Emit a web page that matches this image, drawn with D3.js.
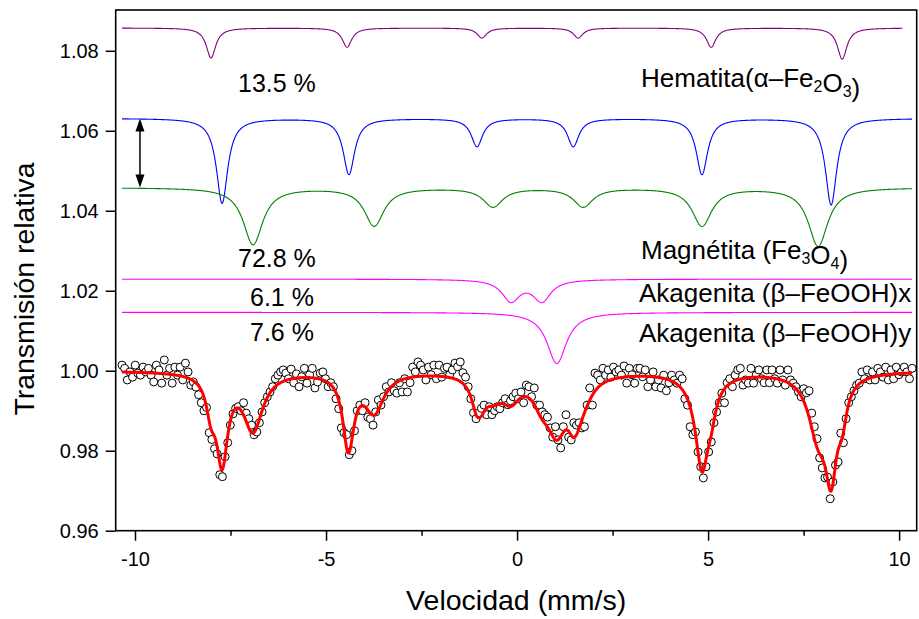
<!DOCTYPE html>
<html><head><meta charset="utf-8">
<script src="https://cdn.jsdelivr.net/npm/d3@7"></script>
<style>body{margin:0;background:#fff;} text{font-family:Arial,"Liberation Sans",sans-serif;fill:#000;}</style>
</head><body><svg id="c" width="919" height="619"></svg>
<script>
// ---------- data ----------
const xTicks = [-10, -5, 0, 5, 10];
const xTickLabels = ["-10", "-5", "0", "5", "10"];
const xMinorTicks = [-7.5, -2.5, 2.5, 7.5];
const yTicks = [0.96, 0.98, 1.00, 1.02, 1.04, 1.06, 1.08];
const yTickLabels = ["0.96", "0.98", "1.00", "1.02", "1.04", "1.06", "1.08"];

// measured spectrum (channels equally spaced from velStart to velEnd)
const velStart = -10.34, velEnd = 10.34;
const transmission = [
1.0014,1.0006,0.9977,0.9997,0.9984,1.0014,0.9994,0.9989,1.0009,0.9997,1.0006,0.9989,0.9972,1.0014,1.0002,0.9969,1.0027,0.9989,1.0006,0.9969,1.0009,0.9989,1.0009,0.9977,1.0019,0.9997,
0.9964,0.9972,0.9959,0.9940,0.9920,0.9900,0.9908,0.9845,0.9828,0.9805,0.9792,0.9740,0.9735,0.9785,0.9820,0.9864,0.9892,0.9906,0.9910,0.9900,0.9920,0.9894,0.9880,0.9864,0.9840,0.9847,0.9870,0.9897,0.9920,0.9935,0.9947,0.9960,0.9980,0.9989,0.9997,1.0002,0.9994,0.9980,1.0004,0.9970,0.9992,0.9960,0.9985,1.0006,0.9969,0.9990,1.0006,0.9957,
0.9972,0.9994,0.9997,0.9980,0.9960,0.9970,0.9960,0.9930,0.9905,0.9857,0.9845,0.9840,0.9790,0.9800,0.9850,0.9900,0.9914,0.9900,0.9920,0.9884,0.9880,0.9864,0.9897,0.9927,0.9914,0.9935,0.9960,0.9947,0.9970,0.9950,0.9944,0.9970,0.9947,0.9980,0.9947,0.9970,1.0009,0.9997,1.0022,1.0014,1.0002,0.9977,1.0009,0.9990,1.0014,0.9980,1.0014,0.9984,1.0006,1.0009,0.9990,1.0002,1.0019,1.0010,1.0022,0.9995,0.9984,0.9960,0.9930,0.9895,0.9880,0.9894,0.9906,0.9914,0.9890,0.9910,0.9890,0.9900,0.9910,0.9905,0.9920,0.9930,0.9915,0.9925,0.9935,0.9944,
0.9930,0.9947,0.9920,0.9964,0.9960,0.9935,0.9957,0.9914,0.9914,0.9897,0.9890,0.9884,0.9857,0.9834,0.9860,0.9827,0.9807,0.9860,0.9890,0.9834,0.9827,0.9870,0.9864,0.9870,0.9857,0.9860,0.9914,0.9957,0.9914,0.9994,0.9989,0.9977,1.0006,0.9989,1.0002,0.9984,1.0009,0.9997,1.0002,0.9989,1.0012,0.9969,1.0006,0.9990,0.9969,1.0006,1.0006,0.9985,1.0002,0.9960,0.9977,0.9997,0.9960,0.9977,0.9957,0.9989,0.9950,0.9970,0.9989,0.9977,0.9969,0.9989,0.9980,0.9930,0.9914,0.9860,0.9840,0.9847,0.9797,0.9760,0.9732,0.9760,0.9797,0.9822,0.9870,
0.9897,0.9920,0.9944,0.9920,0.9970,0.9980,0.9960,0.9989,1.0002,1.0006,0.9964,0.9977,0.9969,1.0006,0.9969,0.9989,1.0002,0.9980,0.9970,1.0002,0.9970,1.0002,0.9980,0.9969,1.0002,0.9977,0.9964,1.0002,0.9977,0.9969,0.9960,0.9947,0.9935,0.9955,0.9945,0.9950,0.9894,0.9860,0.9830,0.9782,0.9757,0.9732,0.9734,0.9680,0.9722,0.9764,0.9772,0.9844,0.9820,0.9880,0.9920,0.9935,0.9950,0.9964,0.9969,0.9997,0.9980,1.0002,0.9977,0.9997,0.9977,1.0006,0.9997,0.9984,1.0009,0.9977,1.0002,0.9980,1.0009,0.9990,0.9997,1.0009,0.9997,0.9980,1.0006
];

// fitted sub-spectra: line positions (mm/s), line depths, line width (FWHM), display baseline
const hemPos   = [-8.01, -4.45, -0.92, 1.60, 5.08, 8.51];
const hemDepth = [0.0075, 0.0048, 0.0025, 0.0025, 0.0048, 0.0078];
const hemWidth = 0.30, hemBase = 1.0857;

const magAPos   = [-7.72, -4.40, -1.05, 1.47, 4.84, 8.22];
const magADepth = [0.0212, 0.0140, 0.0070, 0.0070, 0.0140, 0.0216];
const magAWidth = 0.36, magABase = 1.0631;

const magBPos   = [-6.91, -3.74, -0.63, 1.73, 4.84, 7.88];
const magBDepth = [0.0142, 0.0095, 0.0047, 0.0047, 0.0095, 0.0146];
const magBWidth = 0.62, magBBase = 1.0458;

const akxPos   = [-0.16, 0.65];
const akxDepth = [0.0053, 0.0053];
const akxWidth = 0.57, akxBase = 1.0229;

const akyPos   = [1.04];
const akyDepth = [0.0128];
const akyWidth = 0.62, akyBase = 1.0146;

const percentLabels = ["13.5 %", "72.8 %", "6.1 %", "7.6 %"];

// ---------- drawing ----------
const svg = d3.select("#c");
const L = 115.7, R = 916.7, T = 10, B = 530.7;
const x = d3.scaleLinear().domain([-10.505, 10.46]).range([L, R]);
const y = d3.scaleLinear().domain([0.96, 1.0902]).range([B, T]);

const comps = [
  {pos: hemPos, depth: hemDepth, w: hemWidth, base: hemBase, color: "#800080", end: 10.1},
  {pos: magAPos, depth: magADepth, w: magAWidth, base: magABase, color: "#0000ff", end: velEnd},
  {pos: magBPos, depth: magBDepth, w: magBWidth, base: magBBase, color: "#008000", end: velEnd},
  {pos: akxPos, depth: akxDepth, w: akxWidth, base: akxBase, color: "#ff00ff", end: velEnd},
  {pos: akyPos, depth: akyDepth, w: akyWidth, base: akyBase, color: "#ff00ff", end: velEnd}
];
function absorption(c, v) {
  let s = 0;
  const h = c.w / 2;
  c.pos.forEach((p, k) => { const u = (v - p) / h; s += c.depth[k] / (1 + u * u); });
  return s;
}
const grid = d3.range(velStart, velEnd + 1e-9, 0.01);
const line = d3.line().x(d => x(d[0])).y(d => y(d[1]));

svg.append("clipPath").attr("id", "pc").append("rect")
  .attr("x", L).attr("y", T).attr("width", R - L).attr("height", B - T);
const plot = svg.append("g").attr("clip-path", "url(#pc)");

comps.forEach(c => {
  plot.append("path")
    .attr("d", line(grid.filter(v => v <= c.end).map(v => [v, c.base - absorption(c, v)])))
    .attr("fill", "none").attr("stroke", c.color).attr("stroke-width", 1.1);
});

// data points
const N = transmission.length;
const step = (velEnd - velStart) / (N - 1);
plot.append("g").selectAll("circle").data(transmission).join("circle")
  .attr("cx", (d, i) => x(velStart + i * step))
  .attr("cy", d => y(d))
  .attr("r", 4)
  .attr("fill", "#fff").attr("stroke", "#000").attr("stroke-width", 1);

// total fit
plot.append("path")
  .attr("d", line(grid.map(v => [v, 1 - comps.reduce((s, c) => s + absorption(c, v), 0)])))
  .attr("fill", "none").attr("stroke", "#ff0000").attr("stroke-width", 3).attr("stroke-linejoin", "round");

// double arrow between the two magnetite baselines
const ax = x(-9.87), ay1 = y(magABase), ay2 = y(magBBase);
svg.append("line").attr("x1", ax).attr("x2", ax).attr("y1", ay1 + 10).attr("y2", ay2 - 10)
  .attr("stroke", "#000").attr("stroke-width", 1.5);
svg.append("path").attr("d", `M${ax},${ay1} L${ax - 4.5},${ay1 + 13} L${ax + 4.5},${ay1 + 13} Z`).attr("fill", "#000");
svg.append("path").attr("d", `M${ax},${ay2} L${ax - 4.5},${ay2 - 13} L${ax + 4.5},${ay2 - 13} Z`).attr("fill", "#000");

// axes
svg.append("g").attr("transform", `translate(0,${B})`)
  .call(d3.axisBottom(x).tickValues(xTicks).tickFormat((d, i) => xTickLabels[i]).tickSize(10).tickPadding(11));
svg.append("g").attr("transform", `translate(0,${B})`)
  .call(d3.axisBottom(x).tickValues(xMinorTicks).tickFormat("").tickSize(5));
svg.append("g").attr("transform", `translate(${L},0)`)
  .call(d3.axisLeft(y).tickValues(yTicks).tickFormat((d, i) => yTickLabels[i]).tickSize(10).tickPadding(7));
svg.selectAll(".domain").remove();
svg.selectAll(".tick line").attr("stroke", "#000").attr("stroke-width", 1.5);
svg.selectAll(".tick text").attr("font-size", 20).attr("font-family", "Arial, 'Liberation Sans', sans-serif").attr("fill", "#000");

// frame
svg.append("rect").attr("x", L).attr("y", T).attr("width", R - L).attr("height", B - T)
  .attr("fill", "none").attr("stroke", "#000").attr("stroke-width", 1.6);

// axis titles
svg.append("text").attr("x", (L + R) / 2).attr("y", 610).attr("text-anchor", "middle")
  .attr("font-size", 28.5).text("Velocidad (mm/s)");
svg.append("text").attr("transform", "translate(33.5,289) rotate(-90)").attr("text-anchor", "middle")
  .attr("font-size", 28.4).text("Transmisión relativa");

// percentages
const pct = [[238, 92], [238, 267], [250, 306], [250, 341]];
percentLabels.forEach((t, i) => svg.append("text").attr("x", pct[i][0]).attr("y", pct[i][1]).attr("font-size", 25).text(t));

// phase labels with subscripts
function label(xp, yp, parts) {
  const t = svg.append("text").attr("x", xp).attr("y", yp).attr("font-size", 26);
  parts.forEach(p => {
    if (p.sub) {
      t.append("tspan").attr("dy", 5).attr("font-size", 16).text(p.s);
      t.append("tspan").attr("dy", -5).text("");
    } else t.append("tspan").text(p.s);
  });
}
label(641, 87, [{s: "Hematita(α–Fe"}, {s: "2", sub: 1}, {s: "O"}, {s: "3", sub: 1}, {s: ")"}]);
label(641, 259, [{s: "Magnétita (Fe"}, {s: "3", sub: 1}, {s: "O"}, {s: "4", sub: 1}, {s: ")"}]);
label(639, 302, [{s: "Akagenita (β–FeOOH)x"}]);
label(639, 342, [{s: "Akagenita (β–FeOOH)y"}]);
</script>
</body></html>
